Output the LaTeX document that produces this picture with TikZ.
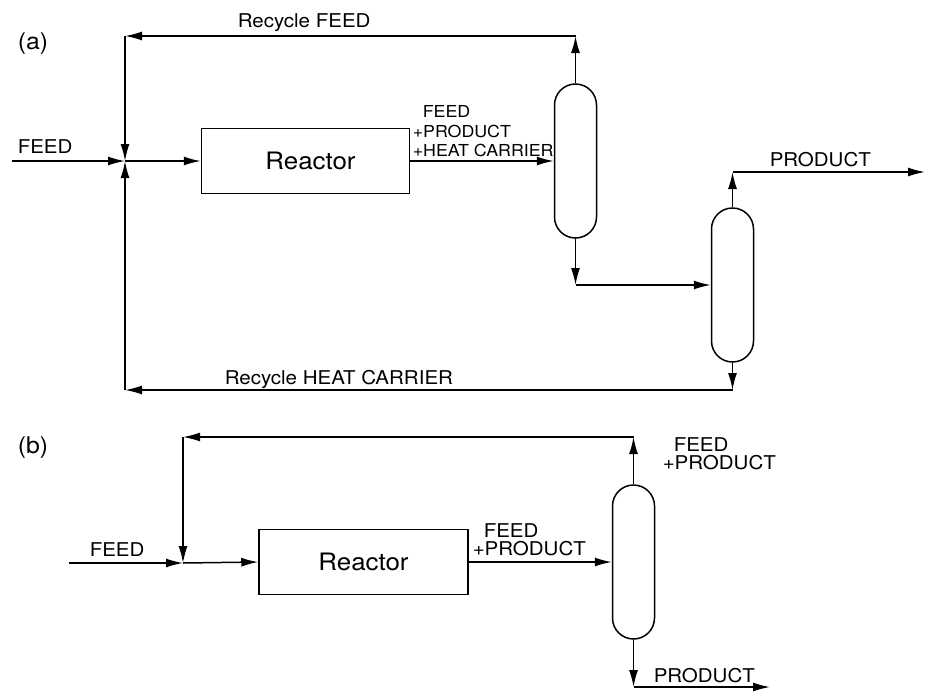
\documentclass[tikz,border=0pt]{standalone}
\usepackage{fontspec}
\setmainfont{TeX Gyre Heros}[FakeStretch=1.08]
\usetikzlibrary{arrows.meta}

\begin{document}
\begin{tikzpicture}[x=1pt, y=-1pt, >={Latex[length=17pt,width=9pt]}, line width=1.5pt,
  lbl/.style={font=\fontsize{19}{22}\selectfont, inner sep=0pt, anchor=base west},
  smalllbl/.style={font=\fontsize{16.5}{19}\selectfont, inner sep=0pt, anchor=base west},
  tag/.style={font=\fontsize{23}{27}\selectfont, inner sep=0pt, anchor=base west},
  reactor/.style={draw, minimum width=208pt, minimum height=65pt, inner sep=0pt,
    font=\fontsize{24}{28}\selectfont},
  column/.style={draw, minimum width=42pt, minimum height=154pt, inner sep=0pt,
    rounded corners=21pt}]
  \useasboundingbox (0,0) rectangle (926,691);

  % (a) two columns, two recycles
  \node[tag] (taga) at (17,49) {(a)};
  \coordinate (feeda) at (12,161);
  \coordinate (ja) at (125,161);
  \coordinate (topa) at (125,36);
  \coordinate (hca) at (125,390);
  \coordinate (proda) at (925,172);
  \node[reactor] (ra) at (305.5,161) {\hspace*{10pt}Reactor};
  \node[column] (c1) at (575.5,161) {};
  \node[column] (c2) at (732.5,285) {};

  \draw[->] (feeda) -- (ja);
  \draw[->] (ja) -- (ra.west);
  \draw[->] (ra.east) -- (c1.west);
  \draw[->] (c1.north) -- (c1.north |- topa);
  \draw[->] (c1.north |- topa) -- (topa);
  \draw[->] (topa) -- (ja);
  \draw[->] (c1.south) -- (c1.south |- c2.west);
  \draw[->] (c1.south |- c2.west) -- (c2.west);
  \draw[->] (c2.north) -- (c2.north |- proda);
  \draw[->] (c2.north |- proda) -- (proda);
  \draw[->] (c2.south) -- (c2.south |- hca);
  \draw[->] (c2.south |- hca) -- (hca);
  \draw[->] (hca) -- (ja);

  \node[lbl] (recfeed) at (237,27) {Recycle FEED};
  \node[lbl] (feedain) at (17,153) {FEED};
  \node[smalllbl] (outa1) at (422,117) {FEED};
  \node[smalllbl] (outa2) at (412,137) {+PRODUCT};
  \node[smalllbl] (outa3) at (412,156) {+HEAT CARRIER};
  \node[lbl] (prodalbl) at (769,166) {PRODUCT};
  \node[lbl] (rechc) at (224,384) {Recycle HEAT CARRIER};

  % (b) one column, one recycle
  \node[tag] (tagb) at (17,453) {(b)};
  \coordinate (feedb) at (69,563);
  \coordinate (jb) at (183,563);
  \coordinate (topb) at (183,437);
  \coordinate (prodb) at (770,687);
  \node[reactor, minimum width=209pt] (rb) at (363.5,562) {Reactor};
  \node[column] (cb) at (633.5,562) {};

  \draw[->] (feedb) -- (jb);
  \draw[->] (jb) -- (rb.west);
  \draw[->] (rb.east) -- (cb.west);
  \draw[->] (cb.north) -- (cb.north |- topb);
  \draw[->] (cb.north |- topb) -- (topb);
  \draw[->] (topb) -- (jb);
  \draw[->] (cb.south) -- (cb.south |- prodb);
  \draw[->] (cb.south |- prodb) -- (prodb);

  \node[lbl] (feedbin) at (89,556) {FEED};
  \node[lbl] (outb1) at (483,537) {FEED};
  \node[lbl] (outb2) at (472,555) {+PRODUCT};
  \node[lbl] (topb1) at (673,451) {FEED};
  \node[lbl] (topb2) at (662,469) {+PRODUCT};
  \node[lbl] (prodblbl) at (653,682) {PRODUCT};
\end{tikzpicture}
\end{document}
